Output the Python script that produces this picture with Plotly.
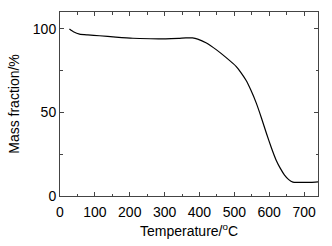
import plotly.graph_objects as go

temperature = [27, 40, 56, 80, 113, 160, 209, 260, 303, 340, 361, 380, 395, 420, 448, 475, 505, 520, 534, 548, 563, 578, 592, 606, 620, 632, 644, 656, 668, 680, 700, 720, 740]
mass = [99.8, 98.0, 96.8, 96.3, 95.8, 95.0, 94.3, 94.0, 93.9, 94.2, 94.5, 94.5, 93.8, 91.5, 87.5, 83.0, 77.5, 73.5, 69.0, 63.0, 55.5, 46.5, 37.5, 29.0, 21.4, 16.5, 12.5, 9.8, 8.3, 8.1, 8.1, 8.2, 8.5]

x_ticks = [0, 100, 200, 300, 400, 500, 600, 700]
y_ticks = [0, 50, 100]
x_title = "Temperature/<sup>o</sup>C"
y_title = "Mass fraction/%"

fig = go.Figure()
fig.add_trace(go.Scatter(x=temperature, y=mass, mode="lines",
                         line=dict(color="black", width=1.2, shape="spline", smoothing=0.5),
                         showlegend=False))

axis_common = dict(showline=True, linecolor="#444", linewidth=1, mirror="ticks",
                   ticks="inside", ticklen=4, tickcolor="#444", showgrid=False,
                   zeroline=False, tickfont=dict(size=14, color="black"))

fig.update_xaxes(range=[0, 740], tickvals=x_ticks, ticklabelstandoff=3,
                 minor=dict(dtick=50, tick0=0, ticks="inside", ticklen=2.5, tickcolor="#444"),
                 **axis_common)
fig.update_yaxes(range=[0, 110], tickvals=y_ticks, ticklabelstandoff=0,
                 minor=dict(dtick=25, tick0=0, ticks="inside", ticklen=2.5, tickcolor="#444"),
                 title=dict(text=y_title, font=dict(size=14, color="black"), standoff=9),
                 **axis_common)

fig.add_annotation(text=x_title, xref="paper", yref="paper", x=0.5, y=0,
                   xanchor="center", yanchor="top", yshift=-23, showarrow=False,
                   font=dict(size=14, color="black"))

fig.update_layout(width=332, height=246, margin=dict(l=60, r=14, t=12, b=50),
                  paper_bgcolor="white", plot_bgcolor="white",
                  font=dict(family="Liberation Sans, Arial, sans-serif"))

fig.write_html("out.html", config={"displayModeBar": False},
               post_script="document.body.style.margin='0';")
